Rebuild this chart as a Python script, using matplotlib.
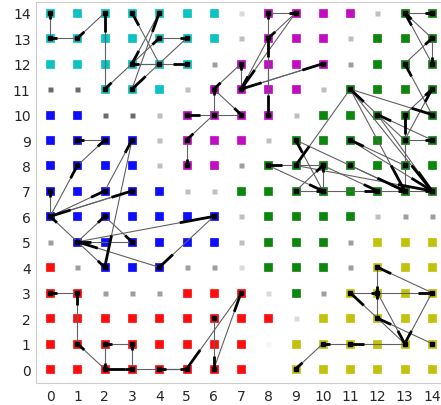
import numpy as np
import matplotlib
matplotlib.use("Agg")
import matplotlib.pyplot as plt
from matplotlib.collections import LineCollection

# cell colours, row 14 first; letters = matplotlib colours, digits = grey level
rows = [
    "ccccccc4mmmm3gg",
    "ccccccc3mmm3ggg",
    "cccccc2mmmm2ggg",
    "11ccc3mmmm3gggg",
    "bb113mmmm3ggggg",
    "bbbb3mmm3gggggg",
    "bbbb3mm2ggggggg",
    "bbbbb33gggggggg",
    "bbbbbbb3gggg322",
    "2bbbbbb3ggg2yyy",
    "r2bbb224ggg2yyy",
    "rr222rrr4g2yyyy",
    "rrrrrrrrr4yyyyy",
    "rrrrrrrr5yyyyyy",
    "rrrrrrrr.yyyyyy",
]
grey_levels = {"1": "0.42", "2": "0.62", "3": "0.75", "4": "0.86", "5": "0.96"}

# directed edges (src -> dst)
edges = [
    # cyan
    ((0, 13), (0, 14)), ((1, 13), (0, 13)), ((2, 14), (1, 13)), ((2, 11), (2, 14)),
    ((3, 12), (2, 11)), ((4, 12), (3, 14)), ((3, 11), (4, 14)), ((4, 14), (3, 12)),
    ((3, 12), (4, 13)), ((4, 13), (5, 13)), ((5, 13), (3, 11)), ((3, 12), (5, 12)),
    ((4, 12), (3, 12)),
    # magenta
    ((8, 14), (9, 14)), ((9, 14), (8, 13)), ((9, 14), (7, 11)), ((8, 13), (7, 11)),
    ((8, 13), (8, 14)), ((8, 10), (8, 13)), ((8, 13), (8, 10)), ((7, 11), (10, 12)),
    ((10, 12), (7, 11)), ((7, 11), (7, 12)), ((7, 12), (6, 11)), ((6, 10), (6, 11)),
    ((6, 11), (7, 10)), ((7, 10), (5, 10)), ((6, 10), (5, 9)), ((5, 9), (5, 8)),
    # blue
    ((0, 6), (0, 7)), ((0, 6), (1, 8)), ((1, 8), (2, 9)), ((2, 9), (1, 9)),
    ((2, 7), (3, 9)), ((3, 9), (2, 4)), ((0, 6), (3, 7)), ((0, 6), (2, 7)),
    ((3, 7), (0, 6)), ((1, 5), (0, 6)), ((1, 5), (6, 6)), ((6, 6), (4, 4)),
    ((4, 4), (1, 5)), ((1, 5), (2, 6)), ((2, 6), (3, 5)), ((3, 5), (1, 5)),
    ((1, 5), (2, 4)),
    # red
    ((1, 3), (0, 3)), ((1, 1), (1, 3)), ((2, 0), (1, 1)), ((3, 1), (2, 1)),
    ((2, 1), (2, 0)), ((3, 0), (3, 1)), ((5, 0), (2, 0)), ((2, 0), (3, 0)),
    ((5, 0), (4, 0)), ((4, 0), (5, 0)), ((7, 3), (5, 0)), ((6, 0), (7, 3)),
    ((6, 2), (6, 0)),
    # yellow
    ((10, 1), (9, 0)), ((11, 1), (10, 1)), ((13, 1), (11, 1)), ((11, 3), (12, 3)),
    ((12, 3), (14, 3)), ((12, 4), (12, 3)), ((12, 2), (12, 3)), ((14, 3), (12, 4)),
    ((13, 1), (11, 3)), ((12, 3), (13, 1)), ((14, 1), (12, 2)), ((14, 3), (13, 1)),
    # green
    ((13, 14), (14, 14)), ((14, 12), (13, 14)), ((14, 13), (13, 14)), ((13, 12), (14, 13)),
    ((14, 13), (14, 12)), ((14, 10), (13, 12)), ((11, 11), (9, 8)), ((11, 11), (14, 10)),
    ((13, 9), (11, 11)), ((11, 11), (13, 7)), ((11, 11), (14, 7)), ((14, 9), (12, 10)),
    ((12, 10), (14, 7)), ((13, 7), (13, 10)), ((13, 10), (14, 11)), ((13, 9), (14, 11)),
    ((13, 9), (14, 9)), ((13, 8), (11, 9)), ((11, 9), (14, 7)), ((10, 7), (9, 9)),
    ((9, 9), (13, 7)), ((10, 8), (8, 8)), ((8, 8), (10, 7)), ((9, 7), (10, 7)),
    ((10, 7), (10, 8)), ((9, 7), (10, 8)), ((10, 8), (12, 7)), ((10, 7), (12, 7)),
    ((11, 8), (13, 7)), ((12, 7), (13, 7)), ((13, 7), (14, 7)), ((9, 8), (14, 7)),
]

ticks = list(range(15))

fig = plt.figure(figsize=(4.41, 4.06), dpi=100)
ax = fig.add_axes([0.082, 0.054, 0.918, 0.939])

for i, row in enumerate(rows):
    yy = 14 - i
    for xx, ch in enumerate(row):
        if ch == ".":
            continue
        if ch in grey_levels:
            ax.plot(xx, yy, "s", color=grey_levels[ch], ms=3.6, mec="none")
        else:
            ax.plot(xx, yy, "s", color=ch, ms=6.0, mec=ch, mew=0.5, alpha=0.95)

src = np.array([e[0] for e in edges], dtype=float)
dst = np.array([e[1] for e in edges], dtype=float)
head = src + 0.75 * (dst - src)
ax.add_collection(LineCollection(list(zip(src, dst)), colors="0.38", linewidths=0.8, zorder=3))
ax.add_collection(LineCollection(list(zip(head, dst)), colors="k", linewidths=2.0, zorder=3))

nodes = sorted(set([e[0] for e in edges] + [e[1] for e in edges]))
ax.plot([n[0] for n in nodes], [n[1] for n in nodes], "s", color="k", ms=2.2, zorder=4)

ax.set_xlim(-0.513, 14.33)
ax.set_ylim(-0.55, 14.43)
ax.set_xticks(ticks)
ax.set_yticks(ticks)
ax.tick_params(length=0, labelsize=10, pad=4, colors="0.15")
for s in ax.spines.values():
    s.set_color("0.8")

fig.savefig("out.png", dpi=100)
